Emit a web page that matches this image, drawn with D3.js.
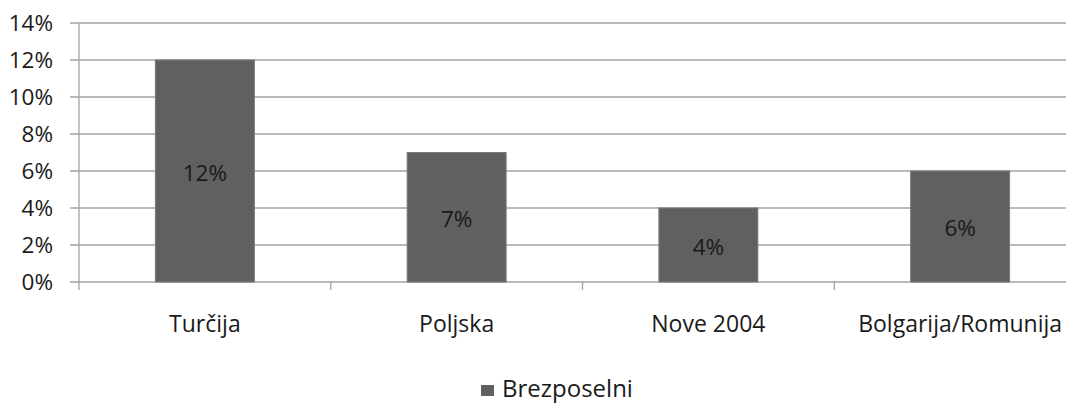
<!DOCTYPE html>
<html>
<head>
<meta charset="utf-8">
<script src="https://cdn.jsdelivr.net/npm/d3@7"></script>
<style>
  body { margin: 0; background: #fff; }
  svg text { font-family: "Open Sans", sans-serif; fill: #1a1a1a; }
</style>
</head>
<body>
<svg id="chart"></svg>
<script>
(function(){
    "use strict";

    const categories = ["Turčija", "Poljska", "Nove 2004", "Bolgarija/Romunija"];
    const values = [0.12, 0.07, 0.04, 0.06];
    const yTicks = [0, 0.02, 0.04, 0.06, 0.08, 0.10, 0.12, 0.14];
    const seriesName = "Brezposelni";

    const width = 1066,
        height = 405,
        left = 79,
        right = 1086,
        top = 23,
        bottom = 282;

    const barColor = "#606060",
        gridColor = "#a3a3a3";

    const svg = d3.select("svg#chart")
        .attr("width", width)
        .attr("height", height);

    const x = d3.scaleBand()
        .domain(categories)
        .range([left, right])
        .padding(0);

    const y = d3.scaleLinear()
        .domain([0, 0.14])
        .range([bottom, top]);

    const fmt = d3.format(".0%");

    // gridlines
    svg.append("g")
        .selectAll("line")
        .data(yTicks)
        .join("line")
        .attr("x1", left - 9)
        .attr("x2", right)
        .attr("y1", d => y(d))
        .attr("y2", d => y(d))
        .attr("stroke", gridColor)
        .attr("stroke-width", 1.3);

    // y tick labels
    svg.append("g")
        .selectAll("text")
        .data(yTicks)
        .join("text")
        .attr("x", 53)
        .attr("y", d => y(d))
        .attr("dy", "0.35em")
        .attr("text-anchor", "end")
        .style("font-size", "22.5px")
        .text(fmt);

    // bars
    const barW = x.bandwidth() * 0.393;
    svg.append("g")
        .selectAll("rect")
        .data(values)
        .join("rect")
        .attr("x", (d, i) => x(categories[i]) + (x.bandwidth() - barW) / 2)
        .attr("y", d => y(d))
        .attr("width", barW)
        .attr("height", d => y(0) - y(d))
        .attr("fill", barColor)
        .attr("stroke", "#787878")
        .attr("stroke-width", 1);

    // value labels
    svg.append("g")
        .selectAll("text")
        .data(values)
        .join("text")
        .attr("x", (d, i) => x(categories[i]) + x.bandwidth() / 2)
        .attr("y", d => (y(d) + y(0)) / 2 + 2)
        .attr("dy", "0.35em")
        .attr("text-anchor", "middle")
        .style("font-size", "22.5px")
        .text(fmt);

    // axes lines
    svg.append("line")
        .attr("x1", left).attr("x2", left)
        .attr("y1", top).attr("y2", bottom + 8)
        .attr("stroke", gridColor)
        .attr("stroke-width", 1.3);

    svg.append("g")
        .selectAll("line")
        .data(categories.slice(1))
        .join("line")
        .attr("x1", d => x(d)).attr("x2", d => x(d))
        .attr("y1", bottom).attr("y2", bottom + 8)
        .attr("stroke", gridColor)
        .attr("stroke-width", 1.3);

    // category labels
    svg.append("g")
        .selectAll("text")
        .data(categories)
        .join("text")
        .attr("x", d => x(d) + x.bandwidth() / 2)
        .attr("y", 332)
        .attr("text-anchor", "middle")
        .style("font-size", "23px")
        .text(d => d);

    // legend
    svg.append("rect")
        .attr("x", 481).attr("y", 385)
        .attr("width", 13).attr("height", 11)
        .attr("fill", barColor);

    svg.append("text")
        .attr("x", 502)
        .attr("y", 397)
        .style("font-size", "24px")
        .text(seriesName);
})();
</script>
</body>
</html>
